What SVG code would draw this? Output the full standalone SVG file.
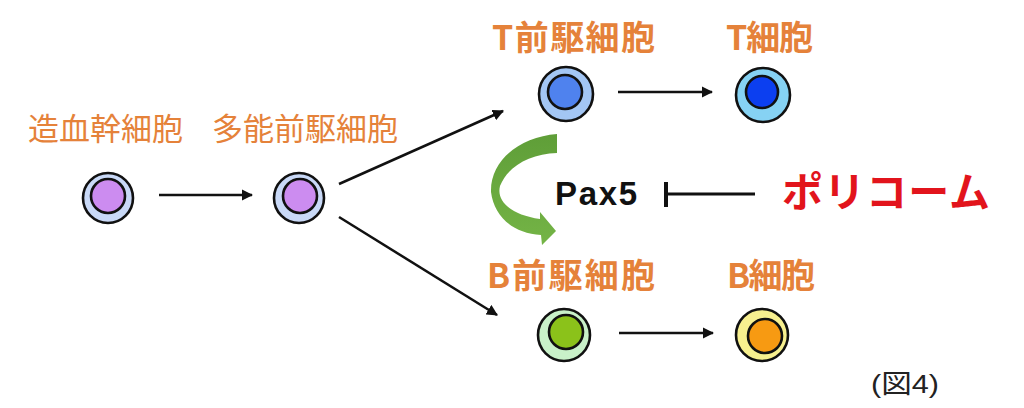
<svg xmlns="http://www.w3.org/2000/svg" width="1024" height="408" viewBox="0 0 1024 408">
<defs>
<style>
.lbl{font-family:"Noto Sans CJK JP","Liberation Sans",sans-serif;fill:#e5823a}
.thin{font-size:31px;font-weight:400}
.bold{font-size:34px;font-weight:700}
.cell{stroke:#111;stroke-width:2.6}
.conn{stroke:#111;stroke-width:2.5;fill:none}
</style>
<marker id="ah" viewBox="0 0 10 10" refX="9" refY="5" markerWidth="4.5" markerHeight="4.5" orient="auto" markerUnits="strokeWidth">
<path d="M0,0 L10,5 L0,10 z" fill="#111"/>
</marker>
<linearGradient id="gr" x1="0" y1="0" x2="0" y2="1">
<stop offset="0" stop-color="#5f9e38"/>
<stop offset="1" stop-color="#74b446"/>
</linearGradient>
</defs>
<rect width="1024" height="408" fill="#ffffff"/>

<g id="connectors">
<line class="conn" x1="159" y1="195" x2="252" y2="195" marker-end="url(#ah)"/>
<line class="conn" x1="339" y1="184" x2="503" y2="111" marker-end="url(#ah)"/>
<line class="conn" x1="339" y1="217" x2="497" y2="315" marker-end="url(#ah)"/>
<line class="conn" x1="618" y1="92" x2="712" y2="92" marker-end="url(#ah)"/>
<line class="conn" x1="619" y1="333" x2="713" y2="333" marker-end="url(#ah)"/>
<g id="inhibit">
<line x1="665" y1="194" x2="755" y2="194" stroke="#111" stroke-width="3"/>
<line x1="666" y1="182" x2="666" y2="207" stroke="#111" stroke-width="4"/>
</g>
<path id="green-arrow" d="M557,134 L557,153 C530,154 508,166 500,186 C496,202 512,215 540,219 L540,212 L556,231 L542,245 L541,235 C512,233 494,216 491,192 C490,160 520,137 557,134 Z" fill="url(#gr)"/>
</g>

<g id="hsc">
<circle class="cell" cx="108" cy="198" r="25" fill="#c9d9f7"/>
<circle class="cell" cx="108" cy="196" r="17" fill="#cc8cf0"/>
<text class="lbl thin" x="28" y="140">造血幹細胞</text>
</g>
<g id="mpp">
<circle class="cell" cx="299" cy="198" r="25" fill="#c9d9f7"/>
<circle class="cell" cx="300" cy="196" r="17" fill="#cc8cf0"/>
<text class="lbl thin" x="212" y="140">多能前駆細胞</text>
</g>
<g id="tprog">
<circle class="cell" cx="566" cy="94" r="27" fill="#a3c6f4"/>
<circle class="cell" cx="565" cy="92" r="17" fill="#4f82ee"/>
<text class="lbl bold" x="492" y="50" textLength="163">T前駆細胞</text>
</g>
<g id="tcell">
<circle class="cell" cx="763" cy="95" r="27" fill="#86d2f3"/>
<circle class="cell" cx="762" cy="92" r="16" fill="#0c3ff0"/>
<text class="lbl bold" x="726" y="50" textLength="87">T細胞</text>
</g>
<g id="bprog">
<circle class="cell" cx="564" cy="335" r="26" fill="#c9f1c9"/>
<circle class="cell" cx="566" cy="332" r="17" fill="#8bc21a"/>
<text class="lbl bold" x="487" y="288" textLength="168">B前駆細胞</text>
</g>
<g id="bcell">
<circle class="cell" cx="762" cy="335" r="26" fill="#f7f08f"/>
<circle class="cell" cx="765" cy="336" r="17" fill="#f79a12"/>
<text class="lbl bold" x="727" y="288" textLength="88">B細胞</text>
</g>
<g id="pax5">
<text x="555" y="205" font-family="'Liberation Sans',Arial,sans-serif" font-size="33" font-weight="700" fill="#111" textLength="82">Pax5</text>
</g>
<g id="polycomb">
<text x="782" y="207" font-family="'Noto Sans CJK JP',sans-serif" font-size="41" font-weight="700" fill="#e2141c" textLength="208">ポリコーム</text>
</g>
<text x="871" y="393" font-family="'Liberation Sans','Noto Sans CJK JP',sans-serif" font-size="26" fill="#222" textLength="68" lengthAdjust="spacingAndGlyphs">(図4)</text>
</svg>
